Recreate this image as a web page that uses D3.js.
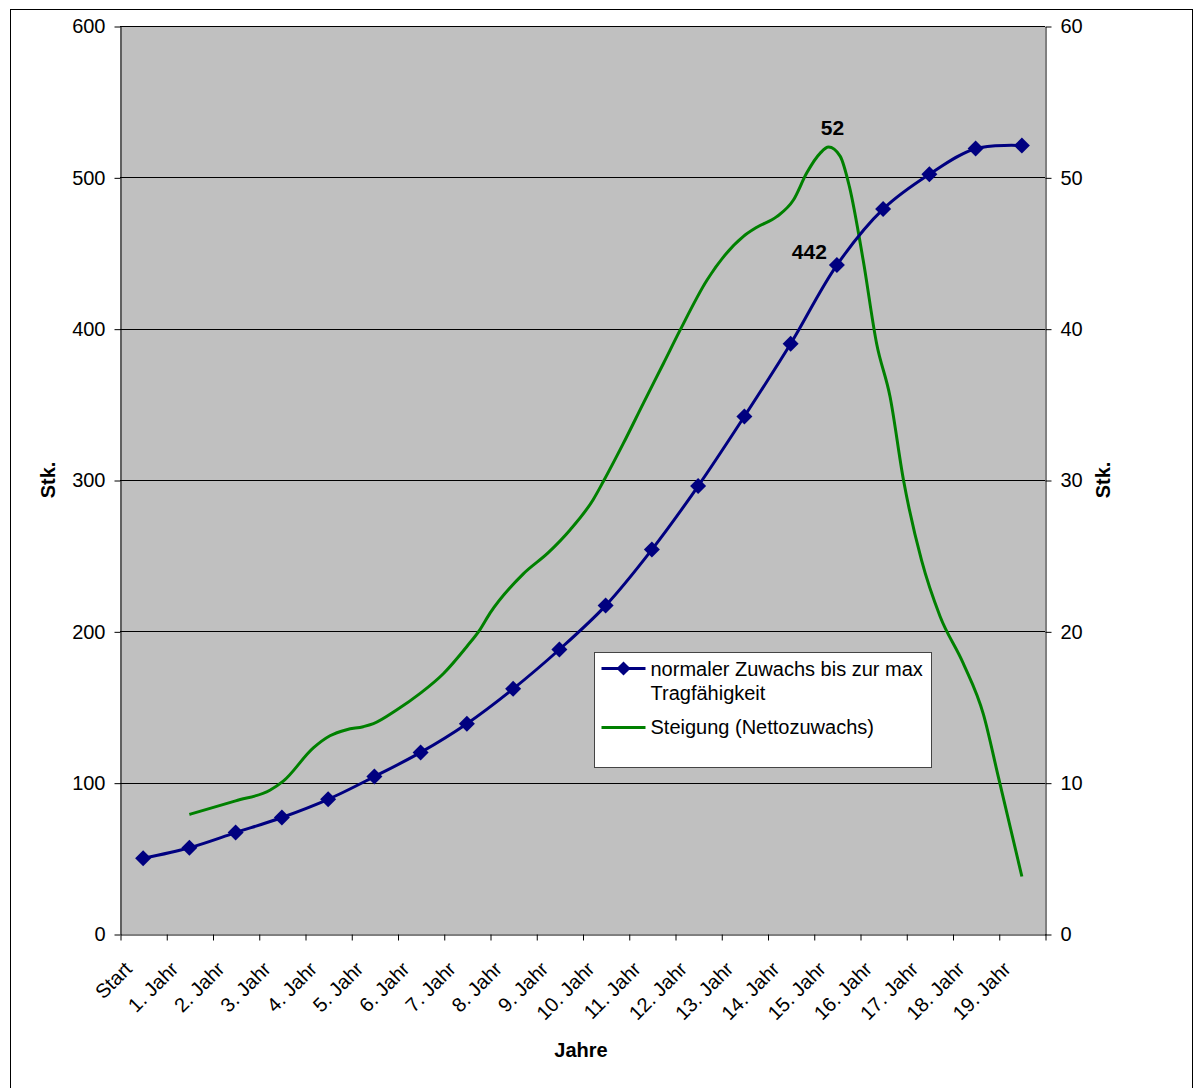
<!DOCTYPE html>
<html>
<head>
<meta charset="utf-8">
<script src="https://cdn.jsdelivr.net/npm/d3@7/dist/d3.min.js"></script>
<style>
  html, body { margin: 0; padding: 0; background: #ffffff; }
  svg { display: block; font-family: Arial, "Liberation Sans", sans-serif; }
</style>
</head>
<body>
<svg id="chart" width="1194" height="1088"></svg>
<script>
// Categories along the x axis
const categories = ["Start", "1. Jahr", "2. Jahr", "3. Jahr", "4. Jahr", "5. Jahr", "6. Jahr",
  "7. Jahr", "8. Jahr", "9. Jahr", "10. Jahr", "11. Jahr", "12. Jahr", "13. Jahr",
  "14. Jahr", "15. Jahr", "16. Jahr", "17. Jahr", "18. Jahr", "19. Jahr"];

// Population per year (left axis, Stk.)
const bestand = [50, 57, 67, 77, 89, 104, 120, 139, 162, 188, 217, 254, 296, 342, 390, 442, 479, 502, 519, 521];

// Net growth curve (right axis), sampled at fractional years
const steigungJahr = [1.0, 2.0, 2.74, 3.03, 3.68, 4.04, 4.40, 4.76, 4.98, 5.48, 5.99, 6.49, 7.0, 7.28, 7.5,
  8.22, 8.76, 9.23, 9.73, 9.95, 10.38, 10.82, 11.25, 11.61, 12.19, 12.98, 13.27, 13.7, 14.06,
  14.35, 14.64, 14.82, 15.07, 15.27, 15.57, 15.86, 16.15, 16.44, 16.83, 17.23, 17.73, 18.17, 18.49, 19.0];
const steigungWert = [7.9, 8.8, 9.5, 10.1, 12.3, 13.1, 13.5, 13.7, 13.9, 14.8, 15.9, 17.2, 19.0, 20.1, 21.2,
  23.8, 25.2, 26.7, 28.7, 29.9, 32.4, 35.1, 37.7, 39.9, 43.2, 46.1, 46.7, 47.4, 48.5,
  50.3, 51.6, 52.0, 51.4, 49.4, 44.5, 39.0, 35.5, 30.0, 24.7, 21.0, 17.9, 14.5, 10.4, 3.8];

const leftTicks = [0, 100, 200, 300, 400, 500, 600];
const rightTicks = [0, 10, 20, 30, 40, 50, 60];

const seriesNames = ["normaler Zuwachs bis zur max", "Tragfähigkeit", "Steigung (Nettozuwachs)"];

const svg = d3.select("#chart");
const plot = { left: 120, right: 1045, top: 26, bottom: 934 };
const navy = "#000080", green = "#008000";

// Outer frame
svg.append("rect")
  .attr("x", 10.5).attr("y", 9.5).attr("width", 1182).attr("height", 1090)
  .attr("fill", "#fff").attr("stroke", "#000").attr("stroke-width", 1);

const xBand = d3.scaleBand().domain(categories).range([plot.left, plot.right]).padding(0);
const xYear = d3.scaleLinear().domain([-0.5, categories.length - 0.5]).range([plot.left, plot.right]);
const yL = d3.scaleLinear().domain([0, 600]).range([plot.bottom, plot.top]);
const yR = d3.scaleLinear().domain([0, 60]).range([plot.bottom, plot.top]);

// Plot area
svg.append("rect")
  .attr("x", plot.left).attr("y", plot.top)
  .attr("width", plot.right - plot.left).attr("height", plot.bottom - plot.top)
  .attr("fill", "#c0c0c0");

// Horizontal gridlines
svg.append("g").selectAll("line").data(leftTicks.slice(1)).join("line")
  .attr("x1", plot.left).attr("x2", plot.right)
  .attr("y1", d => Math.round(yL(d)) + 0.5).attr("y2", d => Math.round(yL(d)) + 0.5)
  .attr("stroke", "#000").attr("stroke-width", 1);

const fontSize = 20;

// Left axis
const gL = svg.append("g").attr("transform", `translate(${plot.left + 0.5},0.5)`)
  .call(d3.axisLeft(yL).tickValues(leftTicks).tickSize(6).tickPadding(9).tickSizeOuter(0));
// Right axis
const gR = svg.append("g").attr("transform", `translate(${plot.right + 0.5},0.5)`)
  .call(d3.axisRight(yR).tickValues(rightTicks).tickSize(6).tickPadding(9).tickSizeOuter(0));
// Bottom axis: ticks on category boundaries
const gB = svg.append("g").attr("transform", `translate(0.5,${plot.bottom + 0.5})`)
  .call(d3.axisBottom(xYear).tickValues(d3.range(-0.5, categories.length, 1)).tickFormat("").tickSize(6).tickSizeOuter(0));

[gL, gR, gB].forEach(g => {
  g.select(".domain").attr("stroke", "#000").attr("stroke-width", 1);
  g.selectAll(".tick line").attr("stroke", "#000");
  g.selectAll("text").attr("font-size", fontSize).attr("fill", "#000")
    .attr("font-family", "Arial, 'Liberation Sans', sans-serif");
});

// Rotated category labels
svg.append("g").selectAll("text").data(categories).join("text")
  .attr("transform", d => `translate(${xBand(d) + xBand.bandwidth() / 2 - 20},${plot.bottom + 26}) rotate(-45)`)
  .attr("text-anchor", "end").attr("dy", "0.72em")
  .attr("font-size", fontSize).attr("fill", "#000")
  .text(d => d);

// Axis titles
svg.append("text").attr("transform", "translate(55,480) rotate(-90)")
  .attr("text-anchor", "middle").attr("font-size", fontSize).attr("font-weight", "bold").text("Stk.");
svg.append("text").attr("transform", "translate(1110,480) rotate(-90)")
  .attr("text-anchor", "middle").attr("font-size", fontSize).attr("font-weight", "bold").text("Stk.");
svg.append("text").attr("x", 581).attr("y", 1057)
  .attr("text-anchor", "middle").attr("font-size", fontSize).attr("font-weight", "bold").text("Jahre");

// Net growth line (right axis)
const greenLine = d3.line().curve(d3.curveMonotoneX)
  .x((d, i) => xYear(steigungJahr[i])).y(d => yR(d));
svg.append("path").datum(steigungWert)
  .attr("d", greenLine).attr("fill", "none").attr("stroke", green).attr("stroke-width", 3);

// Population line (left axis)
const navyLine = d3.line().curve(d3.curveCatmullRom)
  .x((d, i) => xYear(i)).y(d => yL(d));
svg.append("path").datum(bestand)
  .attr("d", navyLine).attr("fill", "none").attr("stroke", navy).attr("stroke-width", 3);

const diamond = d3.symbol().type(d3.symbolSquare).size(128);
svg.append("g").selectAll("path").data(bestand).join("path")
  .attr("transform", (d, i) => `translate(${xYear(i)},${yL(d)}) rotate(45)`)
  .attr("d", diamond).attr("fill", navy);

// Value labels
const iPeak = d3.maxIndex(steigungWert);
svg.append("text")
  .attr("x", xYear(steigungJahr[iPeak]) + 4).attr("y", yR(steigungWert[iPeak]) - 12)
  .attr("text-anchor", "middle").attr("font-size", 21).attr("font-weight", "bold")
  .text(steigungWert[iPeak]);
const iLab = 15;
svg.append("text")
  .attr("x", xYear(iLab) - 10).attr("y", yL(bestand[iLab]) - 6)
  .attr("text-anchor", "end").attr("font-size", 21).attr("font-weight", "bold")
  .text(bestand[iLab]);

// Legend
const lg = svg.append("g").attr("transform", "translate(594.5,652.5)");
lg.append("rect").attr("width", 337).attr("height", 115)
  .attr("fill", "#fff").attr("stroke", "#444").attr("stroke-width", 1);
lg.append("line").attr("x1", 7).attr("x2", 51).attr("y1", 16).attr("y2", 16)
  .attr("stroke", navy).attr("stroke-width", 3);
lg.append("path").attr("transform", "translate(29,16) rotate(45)")
  .attr("d", d3.symbol().type(d3.symbolSquare).size(100)).attr("fill", navy);
lg.append("text").attr("x", 56).attr("y", 23).attr("font-size", 20).text(seriesNames[0]);
lg.append("text").attr("x", 56).attr("y", 47).attr("font-size", 20).text(seriesNames[1]);
lg.append("line").attr("x1", 7).attr("x2", 51).attr("y1", 75).attr("y2", 75)
  .attr("stroke", green).attr("stroke-width", 3);
lg.append("text").attr("x", 56).attr("y", 81).attr("font-size", 20).text(seriesNames[2]);
</script>
</body>
</html>
